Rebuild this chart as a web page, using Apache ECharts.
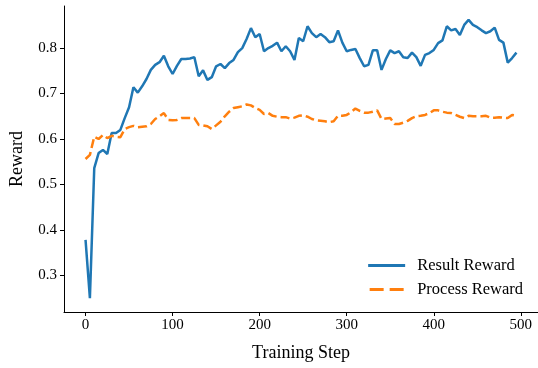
<!DOCTYPE html>
<html>
<head>
<meta charset="utf-8">
<script src="https://cdn.jsdelivr.net/npm/echarts@6/dist/echarts.min.js"></script>
<style>
  html, body { margin: 0; padding: 0; background: #fff; }
</style>
</head>
<body>
<div id="chart" style="width:538px;height:368px;"></div>
<script>
// training steps (every 5 steps)
var steps = [];
for (var s = 0; s < 500; s += 5) steps.push(s);

var resultReward = [
  0.378, 0.250, 0.536, 0.569, 0.576, 0.567, 0.613, 0.613, 0.620, 0.646,
  0.670, 0.714, 0.702, 0.716, 0.732, 0.752, 0.763, 0.769, 0.783, 0.760,
  0.743, 0.761, 0.776, 0.776, 0.777, 0.780, 0.738, 0.751, 0.730, 0.736,
  0.760, 0.765, 0.756, 0.767, 0.774, 0.791, 0.800, 0.820, 0.844, 0.824,
  0.831, 0.793, 0.800, 0.805, 0.812, 0.793, 0.804, 0.793, 0.774, 0.822,
  0.815, 0.848, 0.833, 0.824, 0.831, 0.824, 0.813, 0.815, 0.839, 0.812,
  0.793, 0.796, 0.798, 0.778, 0.760, 0.763, 0.795, 0.795, 0.752, 0.776,
  0.795, 0.789, 0.793, 0.780, 0.778, 0.790, 0.780, 0.761, 0.785, 0.789,
  0.796, 0.811, 0.817, 0.848, 0.839, 0.842, 0.829, 0.851, 0.862, 0.851,
  0.846, 0.839, 0.833, 0.837, 0.845, 0.818, 0.812, 0.768, 0.778, 0.790
];

var processReward = [
  0.556, 0.565, 0.605, 0.600, 0.609, 0.602, 0.607, 0.605, 0.604, 0.622,
  0.626, 0.629, 0.626, 0.627, 0.628, 0.633, 0.644, 0.650, 0.657, 0.642,
  0.641, 0.642, 0.646, 0.646, 0.646, 0.646, 0.631, 0.630, 0.628, 0.622,
  0.630, 0.638, 0.650, 0.660, 0.668, 0.670, 0.672, 0.676, 0.674, 0.668,
  0.664, 0.655, 0.657, 0.651, 0.649, 0.648, 0.648, 0.645, 0.647, 0.651,
  0.652, 0.649, 0.644, 0.641, 0.640, 0.639, 0.637, 0.639, 0.651, 0.651,
  0.653, 0.659, 0.667, 0.662, 0.658, 0.658, 0.660, 0.663, 0.644, 0.645,
  0.646, 0.633, 0.633, 0.636, 0.640, 0.646, 0.650, 0.651, 0.653, 0.657,
  0.663, 0.663, 0.660, 0.658, 0.657, 0.653, 0.649, 0.646, 0.651, 0.650,
  0.650, 0.650, 0.651, 0.647, 0.647, 0.648, 0.647, 0.646, 0.653, 0.651
];

var xTicks = [0, 100, 200, 300, 400, 500];
var yTicks = [0.3, 0.4, 0.5, 0.6, 0.7, 0.8];

function pairs(ys) {
  return steps.map(function (x, i) { return [x, ys[i]]; });
}

var font = 'Liberation Serif';
var chart = echarts.init(document.getElementById('chart'));

var option = {
  animation: false,
  textStyle: { fontFamily: font },
  grid: { left: 64, top: 6, width: 474.5, height: 306 },
  legend: {
    right: 10,
    top: 252,
    orient: 'vertical',
    itemWidth: 37,
    itemHeight: 3,
    itemGap: 7,
    textStyle: { fontFamily: font, fontSize: 16.5, color: '#000', padding: [0, 0, 0, 7] },
    data: [
      { name: 'Result Reward', icon: 'path://M0,0H37V3H0Z', itemStyle: { color: '#1f77b4' } },
      { name: 'Process Reward', icon: 'path://M0,0H14V3H0ZM20,0H34V3H20Z', itemStyle: { color: '#ff7f0e' } }
    ]
  },
  xAxis: {
    type: 'value',
    min: -24.75,
    max: 519.75,
    name: 'Training Step',
    nameLocation: 'middle',
    nameGap: 32,
    nameTextStyle: { fontFamily: font, fontSize: 18, color: '#000' },
    splitLine: { show: false },
    axisLine: { onZero: false, lineStyle: { color: '#000', width: 1 } },
    axisTick: { customValues: xTicks, length: 4, lineStyle: { color: '#000' } },
    axisLabel: { customValues: xTicks, fontFamily: font, fontSize: 15, color: '#000', margin: 6 }
  },
  yAxis: {
    type: 'value',
    min: 0.2194,
    max: 0.8926,
    name: 'Reward',
    nameLocation: 'middle',
    nameGap: 38,
    nameTextStyle: { fontFamily: font, fontSize: 18, color: '#000' },
    splitLine: { show: false },
    axisLine: { show: true, onZero: false, lineStyle: { color: '#000', width: 1 } },
    axisTick: { show: true, customValues: yTicks, length: 4, lineStyle: { color: '#000' } },
    axisLabel: {
      customValues: yTicks, fontFamily: font, fontSize: 15, color: '#000', margin: 7,
      formatter: function (v) { return v.toFixed(1); }
    }
  },
  series: [
    {
      name: 'Result Reward',
      type: 'line',
      symbol: 'none',
      color: '#1f77b4',
      lineStyle: { width: 2.5, color: '#1f77b4' },
      data: pairs(resultReward)
    },
    {
      name: 'Process Reward',
      type: 'line',
      symbol: 'none',
      color: '#ff7f0e',
      lineStyle: { width: 2.5, color: '#ff7f0e', type: [9, 4] },
      data: pairs(processReward)
    }
  ]
};

chart.setOption(option);
</script>
</body>
</html>
